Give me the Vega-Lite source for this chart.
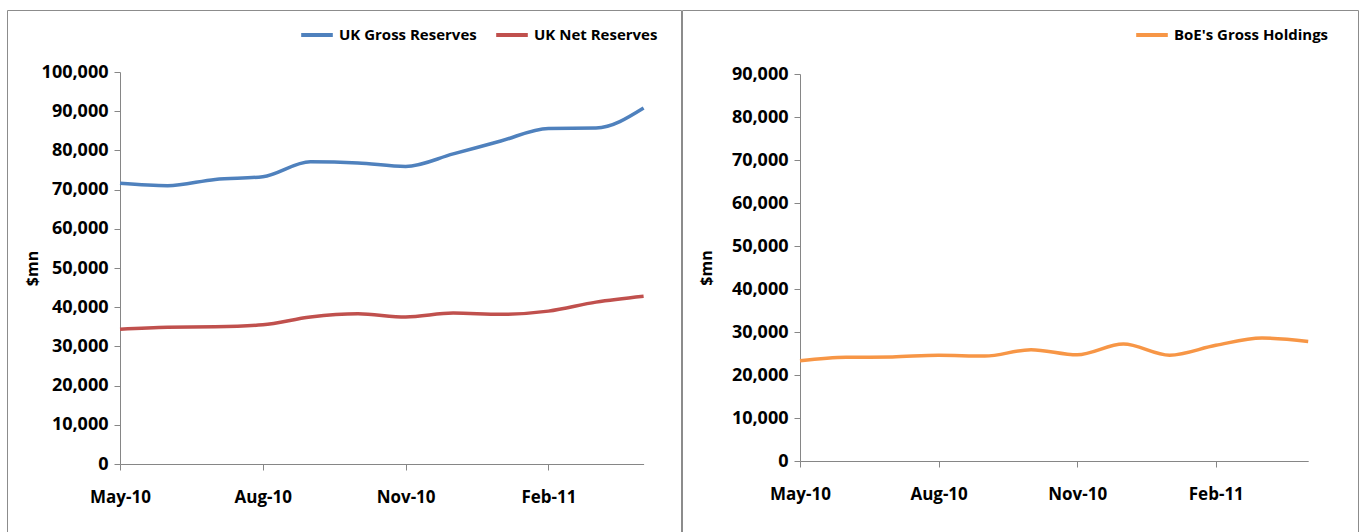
{
  "$schema": "https://vega.github.io/schema/vega-lite/v6.json",
  "padding": {"left": 6, "top": 9, "right": 0, "bottom": 0},
  "background": "white",
  "spacing": -4,
  "config": {
    "view": {"stroke": "#8c8c8c", "strokeWidth": 1},
    "font": "Open Sans",
    "axis": {
      "domainColor": "#868686",
      "tickColor": "#868686",
      "tickSize": 6,
      "grid": false,
      "labelFont": "Open Sans",
      "labelFontSize": 17,
      "labelFontWeight": "bold",
      "labelColor": "#000000",
      "titleFont": "Open Sans",
      "titleFontSize": 16,
      "titleFontWeight": "bold",
      "titleColor": "#000000"
    },
    "axisX": {"labelPadding": 19, "labelAngle": 0},
    "axisY": {"labelPadding": 6, "labelFontSize": 18},
    "legend": {
      "labelFont": "Open Sans",
      "labelFontSize": 15,
      "labelFontWeight": "bold",
      "labelColor": "#000000",
      "symbolType": "stroke",
      "symbolStrokeWidth": 4,
      "symbolSize": 1000,
      "columnPadding": 11,
      "labelOffset": 4,
      "direction": "horizontal",
      "orient": "none"
    }
  },
  "datasets": {
    "reserves": [
      {"month": "May-10", "series": "UK Gross Reserves", "value": 71600},
      {"month": "Jun-10", "series": "UK Gross Reserves", "value": 71000},
      {"month": "Jul-10", "series": "UK Gross Reserves", "value": 72600},
      {"month": "Aug-10", "series": "UK Gross Reserves", "value": 73300},
      {"month": "Sep-10", "series": "UK Gross Reserves", "value": 77100},
      {"month": "Oct-10", "series": "UK Gross Reserves", "value": 76800},
      {"month": "Nov-10", "series": "UK Gross Reserves", "value": 75900},
      {"month": "Dec-10", "series": "UK Gross Reserves", "value": 79100},
      {"month": "Jan-11", "series": "UK Gross Reserves", "value": 82400},
      {"month": "Feb-11", "series": "UK Gross Reserves", "value": 85600},
      {"month": "Mar-11", "series": "UK Gross Reserves", "value": 85700},
      {"month": "Apr-11", "series": "UK Gross Reserves", "value": 90800},
      {"month": "May-10", "series": "UK Net Reserves", "value": 34400},
      {"month": "Jun-10", "series": "UK Net Reserves", "value": 34900},
      {"month": "Jul-10", "series": "UK Net Reserves", "value": 35000},
      {"month": "Aug-10", "series": "UK Net Reserves", "value": 35500},
      {"month": "Sep-10", "series": "UK Net Reserves", "value": 37500},
      {"month": "Oct-10", "series": "UK Net Reserves", "value": 38300},
      {"month": "Nov-10", "series": "UK Net Reserves", "value": 37500},
      {"month": "Dec-10", "series": "UK Net Reserves", "value": 38500},
      {"month": "Jan-11", "series": "UK Net Reserves", "value": 38200},
      {"month": "Feb-11", "series": "UK Net Reserves", "value": 39000},
      {"month": "Mar-11", "series": "UK Net Reserves", "value": 41300},
      {"month": "Apr-11", "series": "UK Net Reserves", "value": 42800}
    ],
    "boe": [
      {"month": "May-10", "series": "BoE's Gross Holdings", "value": 23300},
      {"month": "Jun-10", "series": "BoE's Gross Holdings", "value": 24100},
      {"month": "Jul-10", "series": "BoE's Gross Holdings", "value": 24200},
      {"month": "Aug-10", "series": "BoE's Gross Holdings", "value": 24600},
      {"month": "Sep-10", "series": "BoE's Gross Holdings", "value": 24400},
      {"month": "Oct-10", "series": "BoE's Gross Holdings", "value": 25900},
      {"month": "Nov-10", "series": "BoE's Gross Holdings", "value": 24700},
      {"month": "Dec-10", "series": "BoE's Gross Holdings", "value": 27200},
      {"month": "Jan-11", "series": "BoE's Gross Holdings", "value": 24600},
      {"month": "Feb-11", "series": "BoE's Gross Holdings", "value": 26900},
      {"month": "Mar-11", "series": "BoE's Gross Holdings", "value": 28600},
      {"month": "Apr-11", "series": "BoE's Gross Holdings", "value": 27800}
    ]
  },
  "hconcat": [
    {
      "width": 674,
      "height": 530,
      "data": {"name": "reserves"},
      "mark": {"type": "line", "interpolate": "monotone", "strokeWidth": 3.5},
      "encoding": {
        "x": {
          "field": "month", "type": "ordinal",
          "scale": {"type": "point", "padding": 0, "range": [113, 636.6],
            "domain": ["May-10","Jun-10","Jul-10","Aug-10","Sep-10","Oct-10","Nov-10","Dec-10","Jan-11","Feb-11","Mar-11","Apr-11"]},
          "axis": {"values": ["May-10","Aug-10","Nov-10","Feb-11"], "offset": -76, "title": null}
        },
        "y": {
          "field": "value", "type": "quantitative",
          "scale": {"domain": [0, 100000], "range": [454, 62], "nice": false, "zero": false},
          "axis": {"values": [0,10000,20000,30000,40000,50000,60000,70000,80000,90000,100000], "format": ",.0f", "offset": -113, "title": "$mn", "titlePadding": 1}
        },
        "color": {
          "field": "series", "type": "nominal",
          "scale": {"domain": ["UK Gross Reserves", "UK Net Reserves"], "range": ["#4F81BD", "#C0504D"]},
          "legend": {"title": null, "legendX": 292, "legendY": 7}
        }
      }
    },
    {
      "width": 676,
      "height": 530,
      "data": {"name": "boe"},
      "mark": {"type": "line", "interpolate": "monotone", "strokeWidth": 3.5},
      "encoding": {
        "x": {
          "field": "month", "type": "ordinal",
          "scale": {"type": "point", "padding": 0, "range": [118, 626.2],
            "domain": ["May-10","Jun-10","Jul-10","Aug-10","Sep-10","Oct-10","Nov-10","Dec-10","Jan-11","Feb-11","Mar-11","Apr-11"]},
          "axis": {"values": ["May-10","Aug-10","Nov-10","Feb-11"], "offset": -79, "title": null}
        },
        "y": {
          "field": "value", "type": "quantitative",
          "scale": {"domain": [0, 90000], "range": [451, 64], "nice": false, "zero": false},
          "axis": {"values": [0,10000,20000,30000,40000,50000,60000,70000,80000,90000], "format": ",.0f", "offset": -118, "title": "$mn", "titlePadding": 17}
        },
        "color": {
          "field": "series", "type": "nominal",
          "scale": {"domain": ["BoE's Gross Holdings"], "range": ["#F79646"]},
          "legend": {"title": null, "legendX": 452, "legendY": 7}
        }
      }
    }
  ],
  "resolve": {
    "scale": {"color": "independent", "x": "independent", "y": "independent"},
    "legend": {"color": "independent"}
  }
}
